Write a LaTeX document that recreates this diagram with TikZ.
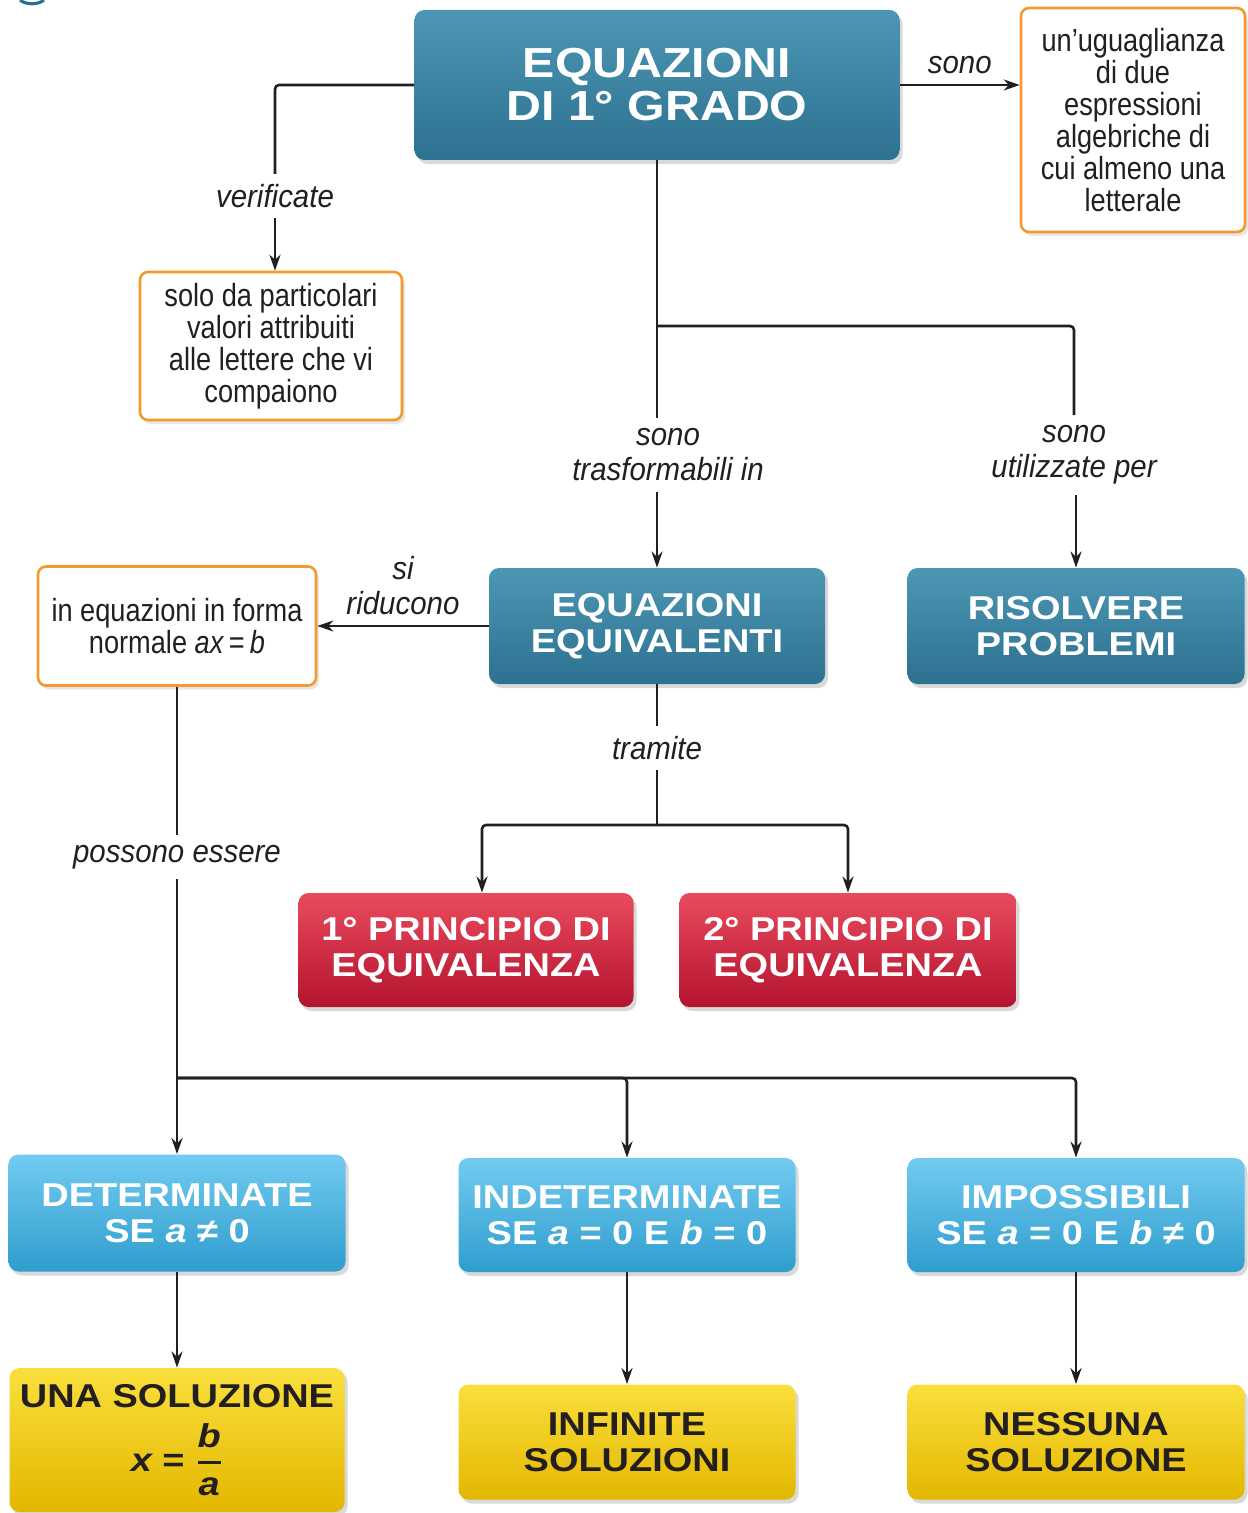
\documentclass[tikz,border=0pt]{standalone}
\usepackage{fontspec}
\usepackage{amsmath}
\setmainfont{Liberation Sans}
\newfontfamily\widefont[FakeStretch=1.15]{Liberation Sans}
\newfontfamily\narrowfont[FakeStretch=0.85]{Liberation Sans}
\newfontfamily\labelfont[FakeStretch=0.92]{Liberation Sans}
\usetikzlibrary{arrows.meta,calc,shadows}

\definecolor{tealtop}{HTML}{4C97B4}
\definecolor{tealbot}{HTML}{2D7190}
\definecolor{skytop}{HTML}{72CBF1}
\definecolor{skybot}{HTML}{2F9DCD}
\definecolor{redtop}{HTML}{E94B5D}
\definecolor{redbot}{HTML}{B3132F}
\definecolor{yeltop}{HTML}{FADF3C}
\definecolor{yelbot}{HTML}{E3B700}
\definecolor{orangeline}{HTML}{F39A2E}
\definecolor{inkdark}{HTML}{231F20}

\tikzset{
    card/.style={rectangle, rounded corners=5pt, align=center, inner sep=0pt,
        drop shadow={opacity=0.3, shadow xshift=1.5pt, shadow yshift=-2pt},
        font=\widefont\bfseries\fontsize{16.5}{18}\selectfont},
    note/.style={rectangle, rounded corners=4pt, align=center, inner sep=0pt,
        draw=orangeline, line width=1.3pt, fill=white, text=inkdark,
        drop shadow={opacity=0.2, shadow xshift=1.5pt, shadow yshift=-2pt},
        font=\narrowfont\fontsize{16}{16}\selectfont},
}

\begin{document}
\begin{tikzpicture}[x=0.5pt,y=-0.5pt,
tealcard/.style={card, top color=tealtop, bottom color=tealbot, text=white},
skycard/.style={card, top color=skytop, bottom color=skybot, text=white},
redcard/.style={card, top color=redtop, bottom color=redbot, text=white},
yelcard/.style={card, top color=yeltop, bottom color=yelbot, text=inkdark},
lbl/.style={align=center, inner sep=5pt, text=inkdark,
    font=\labelfont\itshape\fontsize{16}{17.5}\selectfont},
conn/.style={line width=1.3pt, draw=inkdark, rounded corners=2pt},
arr/.style={conn, -{Stealth[length=8pt,width=5.5pt]}},
]
\useasboundingbox (0,0) rectangle (1247,1513);
\draw[tealbot, line width=1.6pt] (20,0) .. controls (26,5) and (38,5) .. (44,0);

% level 1
\node[tealcard, minimum width=242.5pt, minimum height=75pt, font=\widefont\bfseries\fontsize{21}{21.5}\selectfont] (grado) at (657,85) {EQUAZIONI\\DI 1° GRADO};
\node[note, minimum width=112pt, minimum height=112pt] (uguale) at (1133,120) {un’uguaglianza\\di due\\espressioni\\algebriche di\\cui almeno una\\letterale};
\node[lbl] (verif) at (275,196) {verificate};
\node[note, minimum width=131pt, minimum height=74pt] (valori) at (271,346) {solo da particolari\\valori attribuiti\\alle lettere che vi\\compaiono};

% level 2
\node[lbl] (trasf) at (668,455) {sono\\trasformabili in};
\node[lbl] (utili) at (1074,455) {sono\\utilizzate per};
\node[tealcard, minimum width=168pt, minimum height=58pt] (equiv) at (657,626) {EQUAZIONI\\EQUIVALENTI};
\node[tealcard, minimum width=168.5pt, minimum height=58pt] (risolvi) at (1076,626) {RISOLVERE\\PROBLEMI};
\node[note, minimum width=139pt, minimum height=59.5pt] (normale) at (177,626) {in equazioni in forma\\normale {\itshape ax}\,=\,{\itshape b}};

% level 3
\node[lbl] (tramite) at (657,748) {tramite};
\node[redcard, minimum width=167.5pt, minimum height=57pt] (primo) at (466,950) {1° PRINCIPIO DI\\EQUIVALENZA};
\node[redcard, minimum width=168.5pt, minimum height=57pt] (secondo) at (848,950) {2° PRINCIPIO DI\\EQUIVALENZA};
\node[lbl] (possono) at (177,857) {possono essere};

% level 4
\node[skycard, minimum width=168.5pt, minimum height=58.5pt] (determ) at (177,1213) {DETERMINATE\\SE {\itshape a} ≠ 0};
\node[skycard, minimum width=168.5pt, minimum height=57pt] (indeterm) at (627,1215) {INDETERMINATE\\SE {\itshape a} = 0 E {\itshape b} = 0};
\node[skycard, minimum width=168.5pt, minimum height=57pt] (impos) at (1076,1215) {IMPOSSIBILI\\SE {\itshape a} = 0 E {\itshape b} ≠ 0};

% level 5
\node[yelcard, minimum width=167.5pt, minimum height=72pt] (una) at (177,1440) {UNA SOLUZIONE\\[7pt]{\itshape x} = $\genfrac{}{}{1.8pt}{0}{\hbox{\itshape b}}{\hbox{\itshape a}}$};
\node[yelcard, minimum width=168.5pt, minimum height=57.5pt] (infinite) at (627,1442) {INFINITE\\SOLUZIONI};
\node[yelcard, minimum width=168.5pt, minimum height=57.5pt] (nessuna) at (1076,1442) {NESSUNA\\SOLUZIONE};

\coordinate (split1) at (657,326);
\coordinate (split2) at (657,825);
\coordinate (split3) at (177,1078);

\draw[arr] (grado.east) -- (grado.east -| uguale.west) node[midway, above, lbl] {sono};
\draw[conn] (grado.west) -| (verif.north);
\draw[arr] (verif.south) -- (valori.north -| verif.south);
\draw[conn] (grado.south) -- (grado.south |- trasf.north);
\draw[conn] (split1) -| (utili.north);
\draw[arr] (equiv.north |- trasf.south) -- (equiv.north);
\draw[arr] (risolvi.north |- utili.south) -- (risolvi.north);
\draw[arr] (equiv.west) -- (normale.east) node[midway, above, lbl] {si\\riducono};
\draw[conn] (equiv.south) -- (tramite.north);
\draw[conn] (tramite.south) -- (split2);
\draw[arr] (split2) -| ([xshift=8pt]primo.north);
\draw[arr] (split2) -| (secondo.north);
\draw[conn] (normale.south) -- (possono.north);
\draw[arr] (possono.south) -- (determ.north);
\draw[arr] (split3) -| (indeterm.north);
\draw[arr] (split3) -| (impos.north);
\draw[arr] (determ.south) -- (una.north);
\draw[arr] (indeterm.south) -- (infinite.north);
\draw[arr] (impos.south) -- (nessuna.north);
\end{tikzpicture}
\end{document}
